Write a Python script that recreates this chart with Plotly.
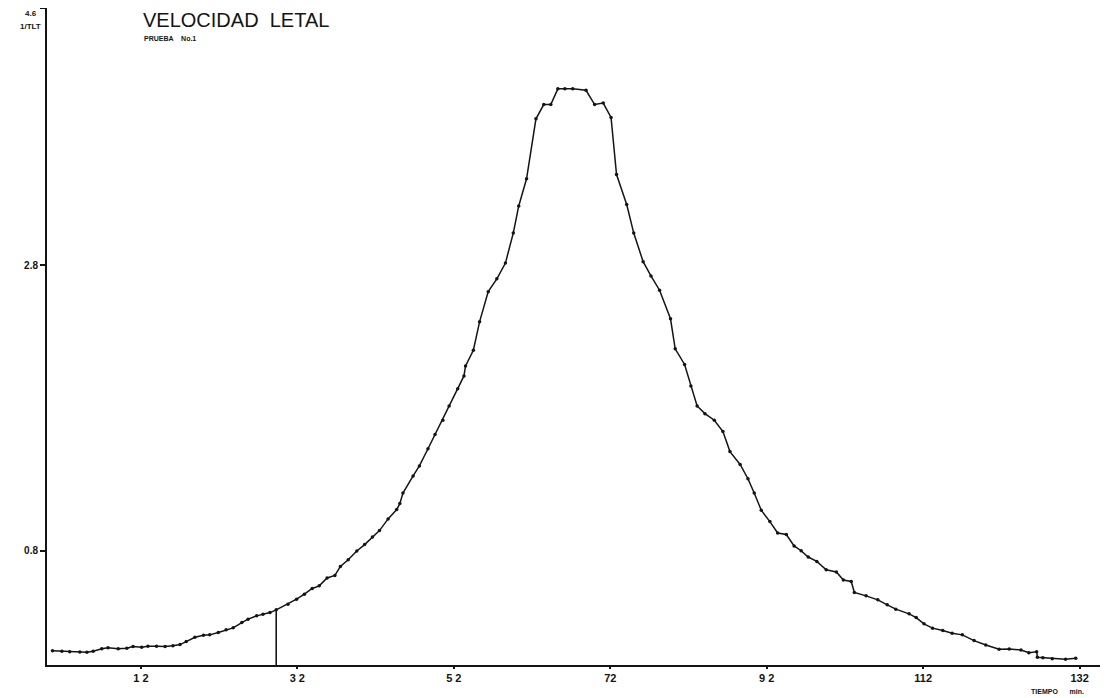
import numpy as np
import plotly.graph_objects as go

# ---- data (time in min, lethal rate 1/TLT) ----
tiempo = [0.7, 1.9, 2.9, 4.2, 5.1, 5.9, 7.0, 7.8, 9.1, 10.2, 11.0, 12.1, 12.9, 14.0, 15.1,
          16.1, 17.0, 17.8, 18.9, 20.0, 20.8, 21.9, 22.9, 23.8, 24.9, 25.7, 26.8, 27.6, 28.5,
          29.3, 30.8, 31.9, 32.9, 33.9, 34.8, 35.8, 36.8, 37.5, 38.5, 39.6, 40.6, 41.6, 42.5,
          43.6, 44.7, 45.1, 45.5, 46.8, 47.6, 48.7, 49.6, 50.6, 51.4, 52.5, 53.3, 53.5, 54.5,
          55.3, 56.4, 57.5, 58.6, 59.6, 60.3, 61.3, 62.5, 63.5, 64.4, 65.3, 66.2, 67.2, 68.9,
          70.0, 71.1, 72.1, 72.8, 74.1, 75.0, 76.2, 77.2, 78.3, 79.7, 80.3, 81.5, 82.3, 83.1,
          84.1, 85.3, 86.4, 87.3, 88.6, 89.6, 90.4, 91.3, 92.4, 93.4, 94.5, 95.5, 96.4, 97.3,
          98.4, 99.6, 100.9, 101.8, 102.8, 103.2, 104.7, 106.2, 107.4, 108.5, 110.2, 111.1,
          112.1, 113.2, 114.5, 115.7, 117.0, 118.5, 120.0, 121.7, 123.0, 124.5, 125.5, 126.5,
          126.6, 127.3, 128.5, 130.2, 131.5]
velocidad = [0.100, 0.096, 0.093, 0.091, 0.089, 0.096, 0.114, 0.121, 0.114, 0.117, 0.129,
             0.124, 0.131, 0.131, 0.129, 0.134, 0.143, 0.164, 0.194, 0.209, 0.211, 0.227,
             0.246, 0.260, 0.297, 0.321, 0.344, 0.356, 0.367, 0.386, 0.426, 0.461, 0.496,
             0.536, 0.554, 0.609, 0.627, 0.690, 0.737, 0.798, 0.843, 0.897, 0.941, 1.023,
             1.088, 1.130, 1.204, 1.324, 1.394, 1.514, 1.614, 1.714, 1.814, 1.934, 2.024,
             2.094, 2.204, 2.404, 2.614, 2.704, 2.814, 3.024, 3.214, 3.404, 3.824, 3.924,
             3.924, 4.034, 4.034, 4.034, 4.024, 3.924, 3.934, 3.834, 3.434, 3.224, 3.024,
             2.824, 2.724, 2.624, 2.424, 2.214, 2.104, 1.954, 1.814, 1.760, 1.714, 1.634,
             1.494, 1.404, 1.304, 1.204, 1.084, 1.004, 0.924, 0.914, 0.834, 0.800, 0.756,
             0.725, 0.667, 0.651, 0.595, 0.585, 0.508, 0.484, 0.456, 0.421, 0.391, 0.358,
             0.332, 0.288, 0.258, 0.241, 0.222, 0.211, 0.171, 0.140, 0.110, 0.112, 0.105,
             0.086, 0.093, 0.054, 0.051, 0.044, 0.040, 0.047]

x_tick_vals = [12, 32, 52, 72, 92, 112, 132]
x_tick_labels = ["1 2", "3 2", "5 2", "72", "9 2", "112", "132"]
y_tick_vals = [0.8, 2.8, 4.6]
y_tick_labels = ["0.8", "2.8", ""]   # top value drawn as annotation (see below)
y_top_label = "4.6"
marca_tiempo = 29.3  # vertical reference line

INK = "#141414"
FONT = "Liberation Sans, Arial, sans-serif"

fig = go.Figure()
fig.add_trace(go.Scatter(
    x=tiempo, y=velocidad, mode="lines+markers",
    line=dict(color=INK, width=1.5),
    marker=dict(size=3.5, color=INK),
    showlegend=False, hoverinfo="x+y"))

marca_valor = float(np.interp(marca_tiempo, tiempo, velocidad))
fig.add_trace(go.Scatter(
    x=[marca_tiempo, marca_tiempo], y=[0, marca_valor], mode="lines",
    line=dict(color=INK, width=1.6), showlegend=False, hoverinfo="skip"))

# the page body has an 8px default margin, so the figure is sized 8px smaller
fig.update_layout(
    width=1105, height=690,
    margin=dict(l=39, r=13, t=0, b=33),
    paper_bgcolor="white", plot_bgcolor="white",
    font=dict(family=FONT, color=INK),
    xaxis=dict(range=[0, 134.6], showgrid=False, zeroline=False, automargin=False,
               showline=True, linecolor=INK, linewidth=2,
               tickvals=x_tick_vals,
               ticktext=["<b>%s</b>" % t for t in x_tick_labels],
               ticks="outside", ticklen=2, tickwidth=2, tickcolor=INK,
               tickfont=dict(size=11, family=FONT, color=INK)),
    yaxis=dict(range=[0, 4.6], showgrid=False, zeroline=False, automargin=False,
               showline=True, linecolor=INK, linewidth=2,
               tickvals=y_tick_vals,
               ticktext=["<b>%s</b>" % t if t else "" for t in y_tick_labels],
               ticks="outside", ticklen=5, tickwidth=1.5, tickcolor=INK,
               tickfont=dict(size=10, family=FONT, color=INK)),
)

fig.add_annotation(text="<b>%s</b>" % y_top_label, xref="paper", yref="paper",
                   x=-0.009, y=1.0, xanchor="right", yanchor="top", showarrow=False,
                   borderpad=0, font=dict(size=8, family=FONT, color=INK))
fig.add_annotation(text="VELOCIDAD  LETAL", xref="paper", yref="paper",
                   x=0.0902, y=1.0, xanchor="left", yanchor="top", showarrow=False,
                   borderpad=0, font=dict(size=20, family=FONT, color=INK))
fig.add_annotation(text="<b>PRUEBA    No.1</b>", xref="paper", yref="paper",
                   x=0.0902, y=0.953, xanchor="left", yanchor="middle", showarrow=False,
                   font=dict(size=7, family=FONT, color=INK))
fig.add_annotation(text="<b>1/TLT</b>", xref="paper", yref="paper",
                   x=-0.016, y=0.9726, xanchor="center", yanchor="middle", showarrow=False,
                   font=dict(size=8, family=FONT, color=INK))
fig.add_annotation(text="<b>TIEMPO      min.</b>", xref="paper", yref="paper",
                   x=0.96, y=-0.041, xanchor="center", yanchor="middle", showarrow=False,
                   borderpad=0, font=dict(size=7, family=FONT, color=INK))

fig.write_html("out.html")
